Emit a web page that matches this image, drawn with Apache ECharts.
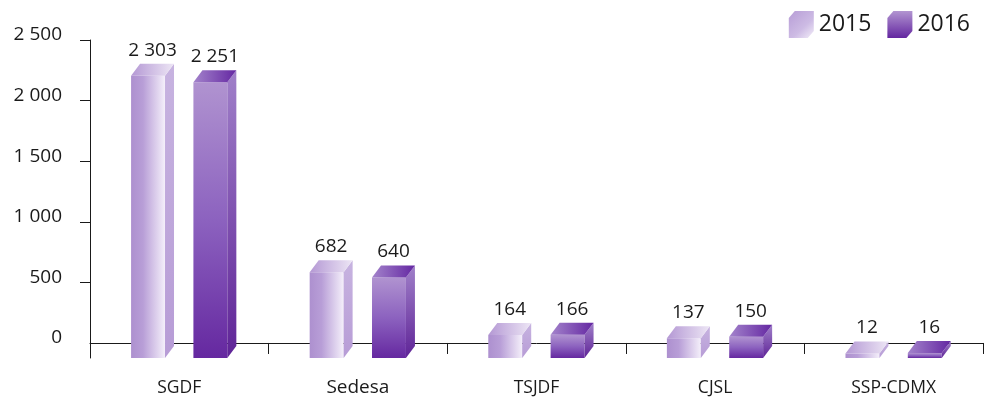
<!DOCTYPE html>
<html>
<head>
<meta charset="utf-8">
<script src="https://cdn.jsdelivr.net/npm/echarts@6/dist/echarts.min.js"></script>
<style>
html,body{margin:0;padding:0;background:#fff;}
#chart{width:985px;height:400px;}
</style>
</head>
<body>
<div id="chart"></div>
<script>
const categories = ['SGDF', 'Sedesa', 'TSJDF', 'CJSL', 'SSP-CDMX'];
const seriesNames = ['2015', '2016'];
const values2015 = [2303, 682, 164, 137, 12];
const values2016 = [2251, 640, 166, 150, 16];
const yTickLabels = [0, 500, 1000, 1500, 2000, 2500];
const yTickMarks = [500, 1000, 1500, 2000, 2500];
const Y_MIN = -124;
const Y_MAX = 2500;

const FONT = 'Open Sans';

function fmt(v) {
  return String(v).replace(/\B(?=(\d{3})+(?!\d))/g, ' ');
}

function lin(x2, y2, stops) {
  return {
    type: 'linear', x: 0, y: 0, x2: x2, y2: y2,
    colorStops: stops.map(s => ({ offset: s[0], color: s[1] }))
  };
}

const palette = [
  {
    front: lin(1, 0, [[0, '#ad90cf'], [0.35, '#b89ed7'], [1, '#f4effa']]),
    side: lin(0, 1, [[0, '#c7b3e0'], [1, '#b79cd6']]),
    top: lin(1, 0, [[0, '#b498d4'], [1, '#ede6f5']]),
    legend: lin(1, 1, [[0, '#b79dd6'], [0.6, '#cdbbe4'], [1, '#f3eef9']])
  },
  {
    front: lin(0, 1, [[0, '#b093d0'], [0.5, '#8c62bf'], [1, '#6528a0']]),
    side: lin(0, 1, [[0, '#a080c9'], [1, '#5f2497']]),
    top: lin(1, 0, [[0, '#a383cb'], [1, '#6427a2']]),
    legend: lin(0, 1, [[0, '#b295d1'], [1, '#6326a0']])
  }
];

function makeRender(si) {
  return function (params, api) {
    const idx = api.value(0);
    const val = api.value(1);
    const back = api.coord([idx, val]);
    const cx = back[0];
    const yTop = back[1];
    const yAxis = api.coord([idx, Y_MIN])[1];
    const band = api.size([1, 0])[0];
    const w = band * 0.19;
    const dx = 9, dy = 12;
    const xL = si === 0 ? cx - band * 0.27 : cx + band * 0.079;
    const fTop = Math.min(yTop + dy, yAxis);
    const p = palette[si];
    return {
      type: 'group',
      children: [
        {
          type: 'polygon',
          shape: { points: [[xL, fTop], [xL + w, fTop], [xL + w, yAxis], [xL, yAxis]] },
          style: { fill: p.front }
        },
        {
          type: 'polygon',
          shape: { points: [[xL + w, fTop], [xL + w + dx, yTop], [xL + w + dx, Math.max(yAxis - dy, yTop)], [xL + w, yAxis]] },
          style: { fill: p.side }
        },
        {
          type: 'polygon',
          shape: { points: [[xL, fTop], [xL + dx, yTop], [xL + w + dx, yTop], [xL + w, fTop]] },
          style: { fill: p.top }
        },
        {
          type: 'text',
          style: {
            text: fmt(val),
            x: xL + (w + dx) / 2,
            y: yTop - 4,
            align: 'center',
            verticalAlign: 'bottom',
            fontSize: 19,
            fontFamily: FONT,
            fill: '#1a1a1a'
          }
        }
      ]
    };
  };
}

const cubeIcon = 'path://M0,7 L6,0 L25,0 L25,20 L19,27 L0,27 Z';

const chart = echarts.init(document.getElementById('chart'));
chart.setOption({
  animation: false,
  backgroundColor: '#fff',
  legend: {
    top: 6,
    right: 10,
    itemWidth: 25,
    itemHeight: 27,
    itemGap: 16,
    textStyle: { fontSize: 23, fontFamily: FONT, color: '#1a1a1a' },
    data: [
      { name: seriesNames[0], icon: cubeIcon, itemStyle: { color: palette[0].legend } },
      { name: seriesNames[1], icon: cubeIcon, itemStyle: { color: palette[1].legend } }
    ]
  },
  grid: { left: 90, right: 2, top: 40, bottom: 42, containLabel: false, outerBoundsMode: 'none' },
  xAxis: {
    type: 'category',
    data: categories.map(c => c === 'Sedesa'
      ? { value: c, textStyle: { fontSize: 19, verticalAlign: 'middle' } }
      : { value: c, textStyle: { fontSize: 17.5, verticalAlign: 'middle' } }),
    boundaryGap: true,
    axisLine: { lineStyle: { color: '#1a1a1a', width: 1 } },
    axisTick: { show: true, length: 11, alignWithLabel: false, lineStyle: { color: '#1a1a1a' } },
    axisLabel: { fontSize: 17.5, fontFamily: FONT, color: '#1a1a1a', margin: 30, verticalAlign: 'middle' },
    splitLine: { show: false }
  },
  yAxis: {
    type: 'value',
    min: Y_MIN,
    max: Y_MAX,
    axisLine: { show: true, lineStyle: { color: '#1a1a1a', width: 1 } },
    axisTick: { show: true, length: 10, inside: false, customValues: yTickMarks, lineStyle: { color: '#1a1a1a' } },
    axisLabel: {
      customValues: yTickLabels,
      fontSize: 19, fontFamily: FONT, color: '#1a1a1a', margin: 28,
      verticalAlign: 'bottom',
      lineHeight: 10,
      formatter: v => fmt(v)
    },
    splitLine: { show: false }
  },
  series: [
    {
      name: seriesNames[0],
      type: 'custom',
      renderItem: makeRender(0),
      itemStyle: { color: palette[0].legend },
      encode: { x: 0, y: 1 },
      data: values2015.map((v, i) => [i, v]),
      z: 2
    },
    {
      name: seriesNames[1],
      type: 'custom',
      renderItem: makeRender(1),
      itemStyle: { color: palette[1].legend },
      encode: { x: 0, y: 1 },
      data: values2016.map((v, i) => [i, v]),
      z: 2
    }
  ]
});
</script>
</body>
</html>
